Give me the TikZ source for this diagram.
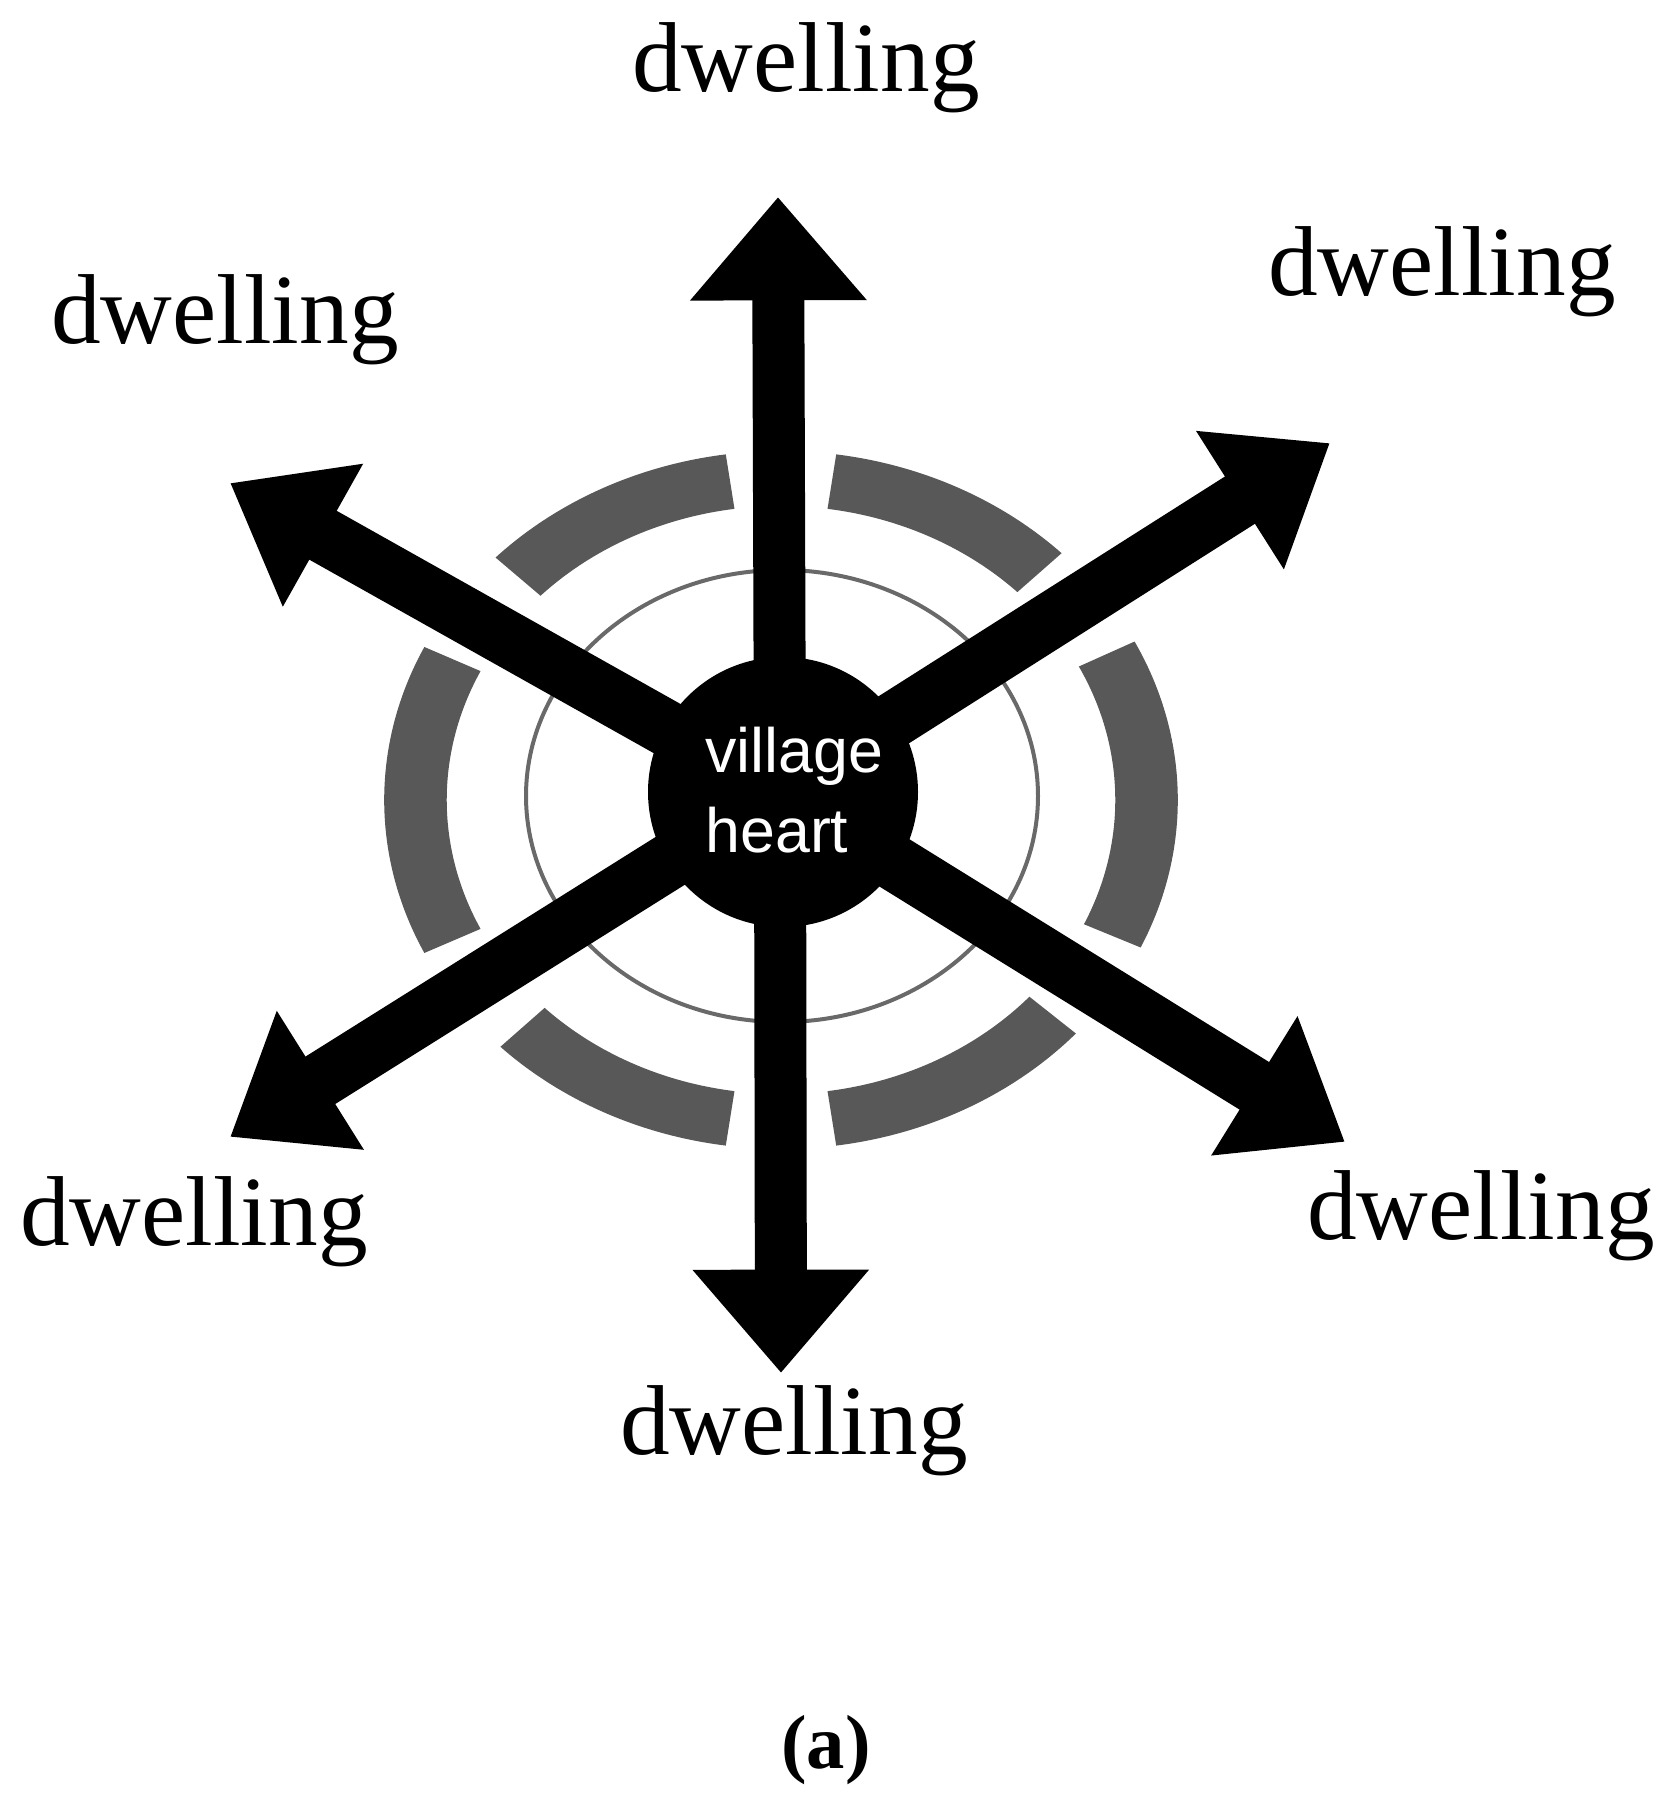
\documentclass[tikz,border=0pt]{standalone}
\usepackage{fontspec}
\setmainfont{Liberation Serif}
\newfontfamily\hubfont{Liberation Sans}
\usetikzlibrary{arrows.meta}
\definecolor{ringgray}{RGB}{88,88,88}
\definecolor{thingray}{RGB}{105,105,105}
\tikzset{
  ringseg/.style={fill=ringgray},
  thinring/.style={draw=thingray, line width=1.2pt},
  spokediag/.style={line width=16.8pt, -{Triangle[length=32pt, width=47pt]}},
  spokevert/.style={line width=15.6pt, -{Triangle[length=31pt, width=51pt]}},
  lbl/.style={anchor=base, inner sep=0pt, font=\fontsize{29.8pt}{36pt}\selectfont},
  hub/.style={circle, fill=black, minimum size=81pt, inner sep=0pt},
  hubtext/.style={text=white, inner sep=0pt, align=left,
    font=\hubfont\fontsize{18.8pt}{24pt}\selectfont},
  caption/.style={anchor=base, inner sep=0pt, font=\bfseries\fontsize{23pt}{28pt}\selectfont}
}
\begin{document}
\begin{tikzpicture}[x=0.3pt, y=0.3pt]
\useasboundingbox (0,0) rectangle (1672,1800);
% gray ring segments (elliptical annulus)
\begin{scope}[shift={(781,1000)}, xscale=1.137]
  \foreach \a/\b in {-25/27, 45/82, 98/136, 154/206, 225/262, 278/318} {
    \fill[ringseg] (\a:349) arc[start angle=\a, end angle=\b, radius=349]
      -- (\b:294) arc[start angle=\b, end angle=\a, radius=294] -- cycle;
  }
\end{scope}
% thin ring
\draw[thinring] (782,1004) ellipse [x radius=256, y radius=226];
% tip coordinates
\coordinate (c) at (780,1008);
\coordinate (tT) at (778,1603);
\coordinate (tB) at (781,427);
\coordinate (tUL) at (230,1317);
\coordinate (tUR) at (1330,1357);
\coordinate (tLL) at (230,663);
\coordinate (tLR) at (1345,658);
% spokes
\draw[spokevert] (c) -- (tT);
\draw[spokevert] (c) -- (tB);
\draw[spokediag] (c) -- (tUL);
\draw[spokediag] (c) -- (tUR);
\draw[spokediag] (c) -- (tLL);
\draw[spokediag] (c) -- (tLR);
% hub
\node[hub] (hub) at (783,1008) {};
\node[hubtext] (hubtxt) at ([xshift=3.4pt, yshift=0.5pt]hub.center) {village\\heart};
% labels
\node[lbl] (dT) at (806,1708) {dwelling};
\node[lbl] (dUR) at (1442,1504) {dwelling};
\node[lbl] (dUL) at (225,1456) {dwelling};
\node[lbl] (dLL) at (194,554) {dwelling};
\node[lbl] (dLR) at (1481,560) {dwelling};
\node[lbl] (dB) at (794,345) {dwelling};
\node[caption] (cap) at (826,32) {(a)};
\end{tikzpicture}
\end{document}
